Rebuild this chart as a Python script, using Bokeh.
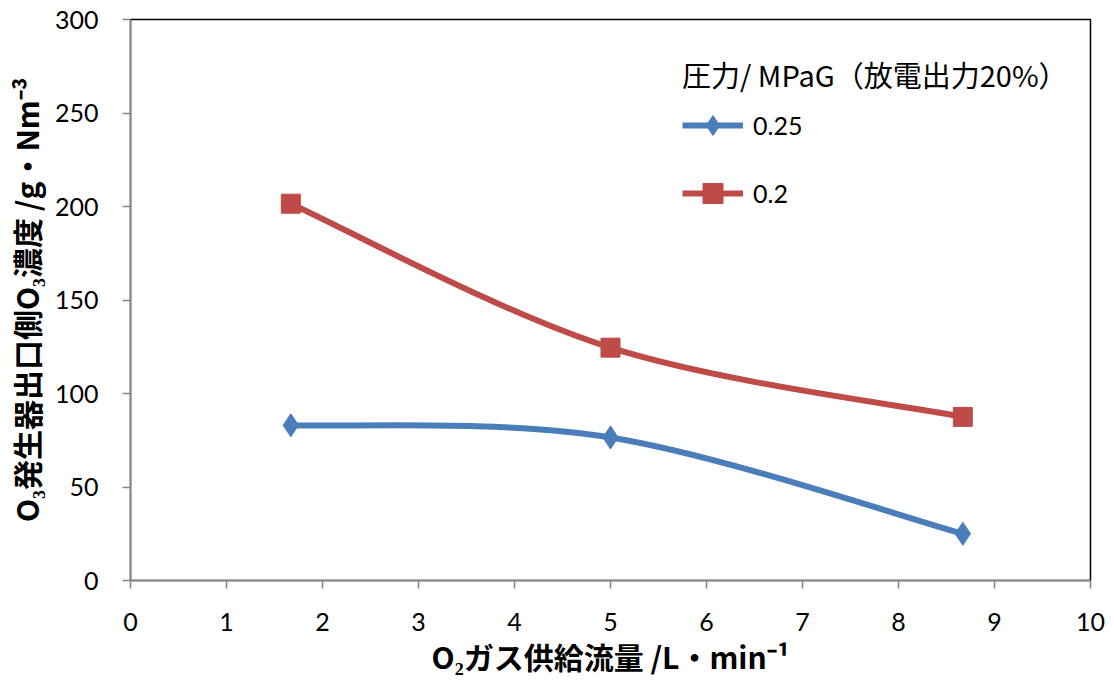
import numpy as np
from bokeh.plotting import figure
from bokeh.models import Range1d, Legend, LegendItem, FixedTicker, ColumnDataSource
from bokeh.embed import file_html
from bokeh.resources import INLINE

# ---- data ----
flow = [1.67, 5.0, 8.67]                 # O2 gas supply flow, L/min
conc_025 = [83.0, 76.5, 25.0]            # pressure 0.25 MPaG
conc_020 = [201.5, 124.5, 87.5]          # pressure 0.2 MPaG
series_labels = ["0.25", "0.2"]
x_ticks = list(range(0, 11))
y_ticks = list(range(0, 301, 50))

BLUE = "#4A7EBB"
RED = "#BE4B48"
CJK = "Noto Sans CJK JP"
LAT = "Lato"


def smooth_segments(xs, ys):
    """Catmull-Rom style Bezier control points (like a spreadsheet 'smoothed line')."""
    xs = np.asarray(xs, float)
    ys = np.asarray(ys, float)
    n = len(xs)
    xp = np.concatenate([[xs[0]], xs, [xs[-1]]])
    yp = np.concatenate([[ys[0]], ys, [ys[-1]]])
    return dict(
        x0=xs[:-1], y0=ys[:-1], x1=xs[1:], y1=ys[1:],
        cx0=xs[:-1] + (xp[2:n + 1] - xp[0:n - 1]) / 6.0,
        cy0=ys[:-1] + (yp[2:n + 1] - yp[0:n - 1]) / 6.0,
        cx1=xs[1:] - (xp[3:n + 2] - xp[1:n]) / 6.0,
        cy1=ys[1:] - (yp[3:n + 2] - yp[1:n]) / 6.0,
    )


p = figure(width=1114, height=682,
           x_range=Range1d(0, 10), y_range=Range1d(0, 300),
           output_backend="svg", toolbar_location=None,
           min_border_left=130, min_border_right=24,
           min_border_top=19, min_border_bottom=102)

p.xgrid.visible = False
p.ygrid.visible = False
p.background_fill_color = "white"
p.border_fill_color = "white"
p.outline_line_color = "black"
p.outline_line_width = 1.5

for ax in (p.xaxis[0], p.yaxis[0]):
    ax.axis_line_color = "#868686"
    ax.axis_line_width = 1.5
    ax.major_tick_line_color = "#868686"
    ax.major_tick_line_width = 1.5
    ax.major_tick_in = 0
    ax.major_tick_out = 8
    ax.minor_tick_line_color = None
    ax.major_label_text_font = LAT
    ax.major_label_text_font_size = "25px"
    ax.major_label_text_color = "black"
    ax.axis_label_text_font = CJK
    ax.axis_label_text_font_size = "30px"
    ax.axis_label_text_font_style = "bold"
    ax.axis_label_text_color = "black"

p.xaxis.ticker = FixedTicker(ticks=x_ticks)
p.yaxis.ticker = FixedTicker(ticks=y_ticks)
p.xaxis.major_label_standoff = 24
p.yaxis.major_label_standoff = 24
p.xaxis.axis_label_standoff = 0
p.yaxis.axis_label_standoff = 4
p.xaxis.axis_label = "O₂ガス供給流量 /L・min⁻¹"
p.yaxis.axis_label = "O₃発生器出口側O₃濃度 /g・Nm⁻³"

items = []
for label, ys, color, marker, size in [
    (series_labels[0], conc_025, BLUE, "diamond", 23),
    (series_labels[1], conc_020, RED, "square", 19),
]:
    seg = ColumnDataSource(smooth_segments(flow, ys))
    curve = p.bezier(x0="x0", y0="y0", x1="x1", y1="y1", cx0="cx0", cy0="cy0",
                     cx1="cx1", cy1="cy1", source=seg, line_color=color, line_width=6)
    pts = p.scatter(x=flow, y=ys, marker=marker, size=size,
                    fill_color=color, line_color=color, line_width=1)
    items.append(LegendItem(label=label, renderers=[curve, pts]))

legend = Legend(items=items, location=(552, 362),
                title="圧力/ MPaG（放電出力20%）")
legend.title_text_font = CJK
legend.title_text_font_size = "29px"
legend.title_text_font_style = "normal"
legend.title_text_color = "black"
legend.title_standoff = 5
legend.label_text_font = LAT
legend.label_text_font_size = "25px"
legend.label_text_color = "black"
legend.border_line_color = None
legend.background_fill_alpha = 0
legend.padding = 0
legend.margin = 0
legend.glyph_width = 61
legend.glyph_height = 50
legend.label_height = 50
legend.spacing = 18
legend.label_standoff = 10
p.add_layout(legend)

open("out.html", "w").write(file_html(p, INLINE))
